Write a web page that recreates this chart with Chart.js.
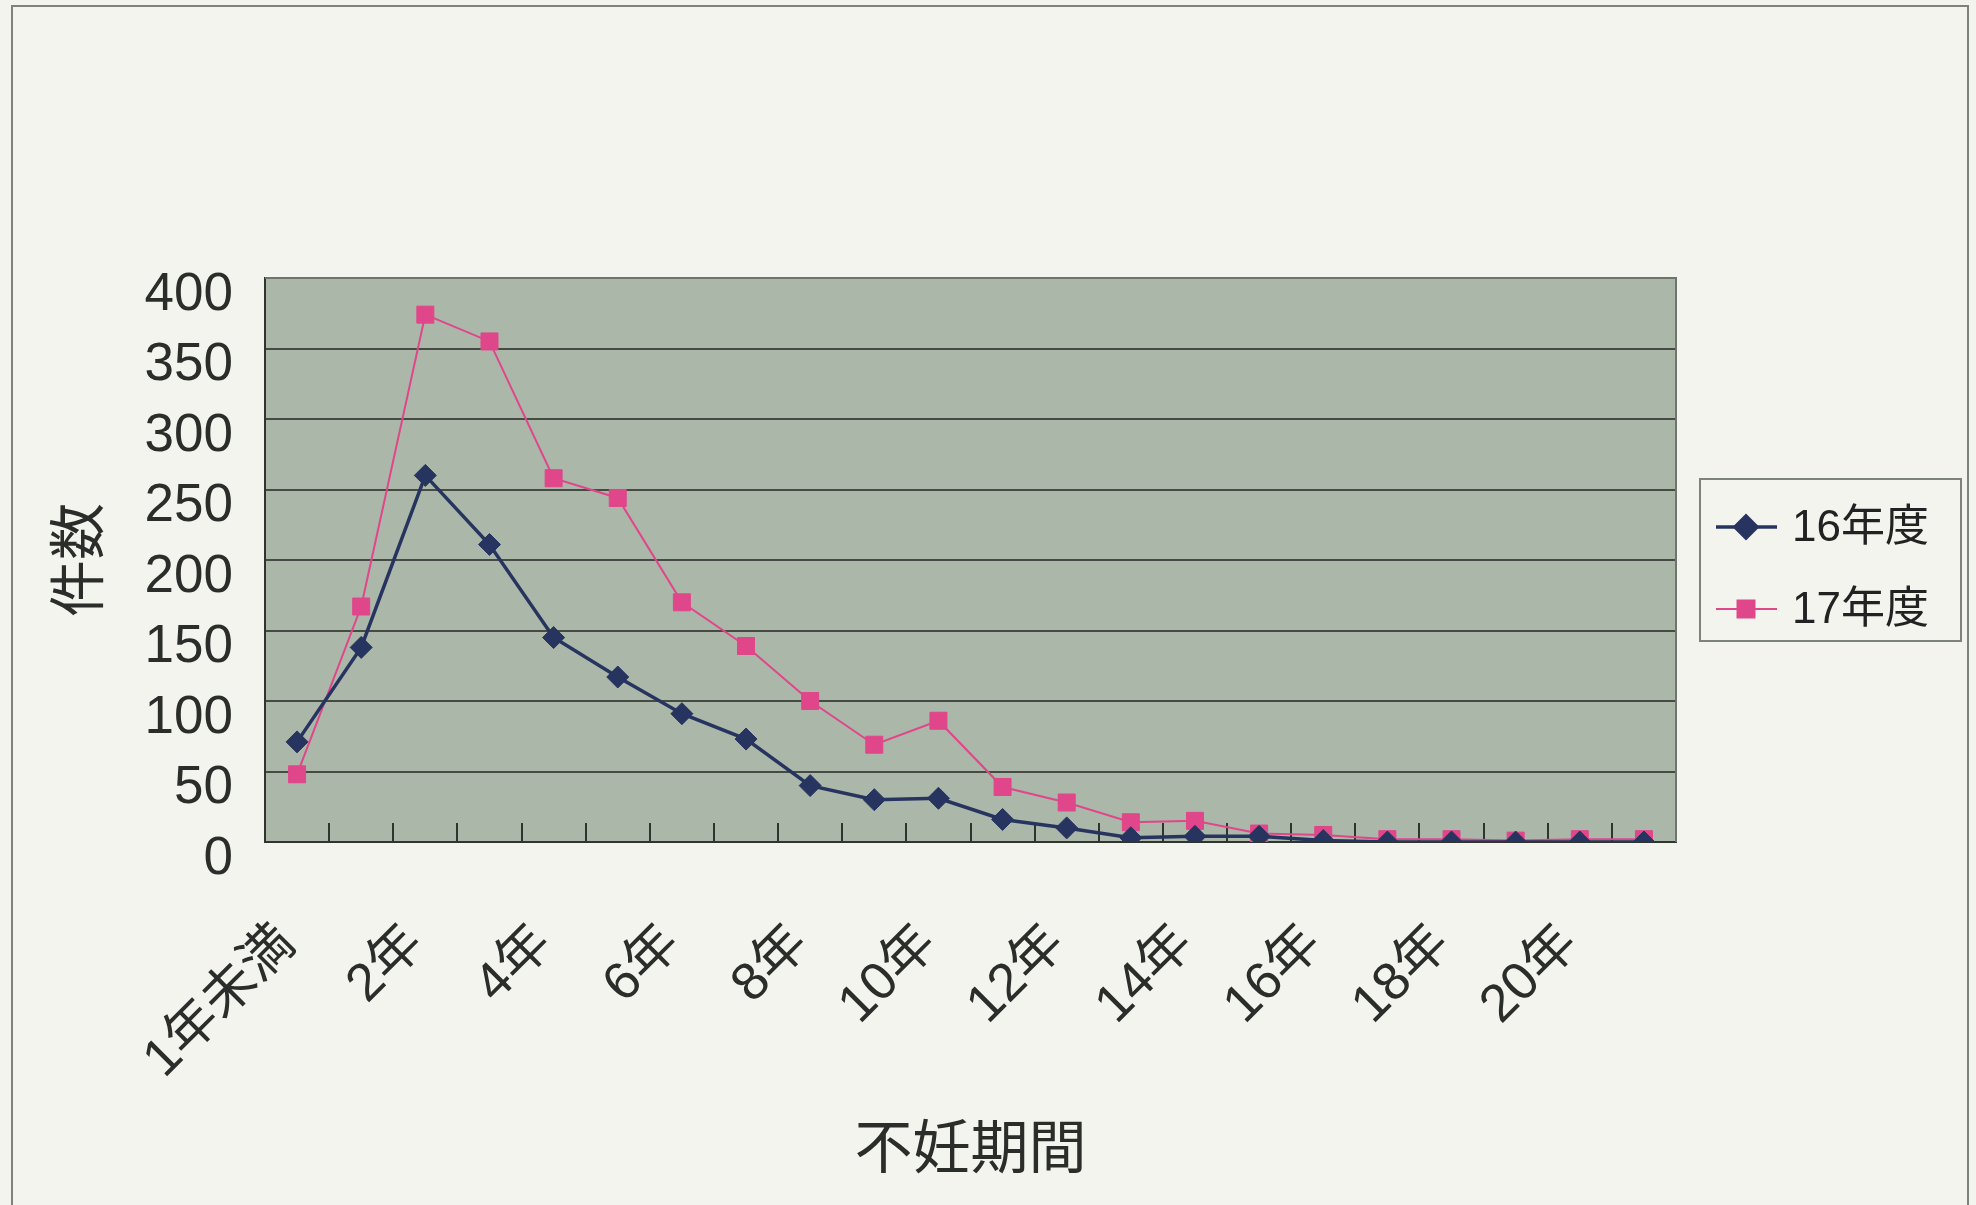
<!DOCTYPE html>
<html>
<head>
<meta charset="utf-8">
<script src="https://cdn.jsdelivr.net/npm/chart.js@4.4.1/dist/chart.umd.min.js"></script>
<style>
  html, body { margin: 0; padding: 0; background: #f3f4ee; }
  #wrap { position: relative; width: 1976px; height: 1205px; }
</style>
</head>
<body>
<div id="wrap"><canvas id="c"></canvas></div>
<script>
const categories = ['1年未満', '1年', '2年', '3年', '4年', '5年', '6年', '7年', '8年', '9年', '10年',
  '11年', '12年', '13年', '14年', '15年', '16年', '17年', '18年', '19年', '20年', '21年'];
const fy16 = [71, 138, 260, 211, 145, 117, 91, 73, 40, 30, 31, 16, 10, 3, 4, 4, 1, 0, 0, 0, 0, 0];
const fy17 = [48, 167, 374, 355, 258, 244, 170, 139, 100, 69, 86, 39, 28, 14, 15, 6, 5, 2, 2, 1, 2, 2];
const yTicks = [0, 50, 100, 150, 200, 250, 300, 350, 400];
const seriesNames = ['16年度', '17年度'];

const FONT = "'Liberation Sans', Arial, 'Noto Sans CJK JP', sans-serif";
const NAVY = '#27345f';
const PINK = '#e0468a';
const GRID = '#454b44';

// plot background, plot border and outer frame
const frame = {
  id: 'frame',
  beforeDraw(chart) {
    const { ctx, chartArea: a } = chart;
    ctx.save();
    ctx.fillStyle = '#f3f4ee';
    ctx.fillRect(0, 0, chart.width, chart.height);
    ctx.strokeStyle = '#7d827c';
    ctx.lineWidth = 2;
    ctx.beginPath();
    ctx.moveTo(12, 1210);
    ctx.lineTo(12, 6);
    ctx.lineTo(1968, 6);
    ctx.lineTo(1968, 1210);
    ctx.stroke();
    ctx.fillStyle = '#abb7a9';
    ctx.fillRect(a.left, a.top, a.right - a.left, a.bottom - a.top);
    ctx.restore();
  },
  afterDatasetsDraw(chart) {
    const { ctx, chartArea: a } = chart;
    ctx.save();
    ctx.strokeStyle = '#6f756e';
    ctx.lineWidth = 2;
    ctx.beginPath();
    ctx.moveTo(a.left, a.top);
    ctx.lineTo(a.right, a.top);
    ctx.lineTo(a.right, a.bottom);
    ctx.stroke();
    ctx.restore();
  }
};

// legend box at right
const sideLegend = {
  id: 'sideLegend',
  afterDraw(chart) {
    const { ctx } = chart;
    const bx = 1700, by = 479, bw = 261, bh = 162;
    ctx.save();
    ctx.fillStyle = '#f3f4ee';
    ctx.fillRect(bx, by, bw, bh);
    ctx.strokeStyle = '#7d827c';
    ctx.lineWidth = 2;
    ctx.strokeRect(bx, by, bw, bh);
    const rows = [527, 609];
    chart.data.datasets.forEach((ds, i) => {
      const y = rows[i];
      ctx.strokeStyle = ds.borderColor;
      ctx.lineWidth = ds.borderWidth;
      ctx.beginPath();
      ctx.moveTo(1716, y);
      ctx.lineTo(1777, y);
      ctx.stroke();
      ctx.fillStyle = ds.backgroundColor;
      ctx.strokeStyle = ds.borderColor;
      Chart.helpers.drawPoint(ctx, { pointStyle: ds.pointStyle, radius: ds.pointRadius, borderWidth: 1 }, 1746, y);
      ctx.fillStyle = '#222';
      ctx.font = '44px ' + FONT;
      ctx.textBaseline = 'middle';
      ctx.fillText(ds.label, 1792, y + 2);
    });
    ctx.restore();
  }
};

new Chart(document.getElementById('c'), {
  type: 'line',
  data: {
    labels: categories,
    datasets: [
      {
        label: seriesNames[0],
        data: fy16,
        borderColor: NAVY,
        backgroundColor: NAVY,
        borderWidth: 3.5,
        pointStyle: 'rectRot',
        pointRadius: 11,
        pointBorderWidth: 1,
        tension: 0
      },
      {
        label: seriesNames[1],
        data: fy17,
        borderColor: PINK,
        backgroundColor: PINK,
        borderWidth: 2,
        pointStyle: 'rect',
        pointRadius: 12,
        pointBorderWidth: 1,
        tension: 0
      }
    ]
  },
  options: {
    responsive: true,
    maintainAspectRatio: false,
    animation: false,
    devicePixelRatio: 1,
    layout: { padding: { left: 0, top: 278, right: 300, bottom: 0 } },
    plugins: {
      legend: { display: false },
      tooltip: { enabled: false }
    },
    scales: {
      x: {
        offset: true,
        afterFit: (s) => { s.height = 363; },
        grid: {
          offset: true,
          drawOnChartArea: false,
          drawTicks: true,
          tickLength: -19,
          color: '#2f342f',
          lineWidth: 2
        },
        border: { color: '#2f342f', width: 2 },
        ticks: {
          autoSkip: false,
          maxRotation: 45,
          minRotation: 45,
          padding: 90,
          labelOffset: -10,
          color: '#2a2d2a',
          font: { family: FONT, size: 53 },
          callback: function (value, index) {
            return index % 2 === 0 && index < 21 ? this.getLabelForValue(value) : '';
          }
        },
        title: {
          display: true,
          text: '不妊期間',
          color: '#2a2d2a',
          font: { family: FONT, size: 58 },
          padding: { top: 0, bottom: 18 }
        }
      },
      y: {
        min: 0,
        max: 400,
        afterFit: (s) => { s.width = 265; },
        afterBuildTicks: (s) => { s.ticks = yTicks.map(v => ({ value: v })); },
        grid: { color: GRID, lineWidth: 2, drawTicks: false },
        border: { color: '#2f342f', width: 2 },
        ticks: {
          padding: 32,
          labelOffset: 17,
          color: '#2a2d2a',
          font: { family: FONT, size: 53 }
        },
        title: {
          display: true,
          text: '件数',
          color: '#2a2d2a',
          font: { family: FONT, size: 57 },
          padding: { top: 48, bottom: 0 }
        }
      }
    }
  },
  plugins: [frame, sideLegend]
});
</script>
</body>
</html>
